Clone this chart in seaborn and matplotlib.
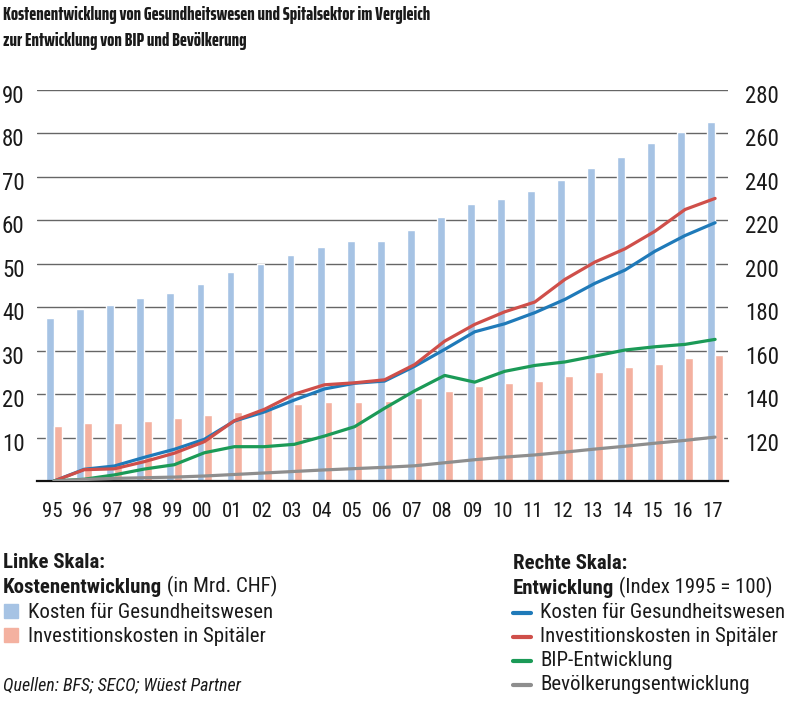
import matplotlib
matplotlib.use("Agg")
import matplotlib.pyplot as plt
import matplotlib.transforms as mtransforms
from matplotlib.patches import Rectangle
from matplotlib.lines import Line2D
import numpy as np
import pandas as pd
import seaborn as sns

years = ["95", "96", "97", "98", "99", "00", "01", "02", "03", "04", "05", "06",
         "07", "08", "09", "10", "11", "12", "13", "14", "15", "16", "17"]

# left scale, bn CHF
health_costs = [37.6, 39.7, 40.4, 42.2, 43.3, 45.4, 48.1, 50.0, 52.0, 53.8, 55.2, 55.2,
                57.7, 60.8, 63.7, 65.0, 66.8, 69.2, 72.0, 74.5, 77.7, 80.4, 82.6]
hospital_invest = [12.6, 13.4, 13.4, 13.7, 14.4, 15.1, 15.95, 16.5, 17.7, 18.1, 18.1, 18.4,
                   19.2, 20.7, 21.8, 22.5, 23.1, 24.2, 25.2, 26.3, 27.0, 28.4, 29.1]

# right scale, index 1995 = 100
idx_health = [100, 105.4, 106.9, 110.9, 114.6, 119.2, 127.6, 131.8, 137.3, 142.4, 145.0, 146.0,
              152.8, 160.6, 168.7, 172.4, 177.5, 183.6, 191.0, 197.1, 205.8, 213.0, 218.9]
idx_hospital = [100, 105.2, 105.6, 108.9, 112.8, 118.1, 127.8, 133.0, 140.0, 144.3, 145.2, 146.6,
                153.6, 164.4, 172.1, 177.9, 182.4, 192.8, 200.8, 206.9, 215.0, 225.0, 230.1]
idx_gdp = [100, 100.8, 102.8, 105.5, 107.5, 113.0, 115.8, 115.8, 116.9, 120.7, 125.0, 133.5,
           141.5, 148.6, 145.5, 150.5, 153.2, 154.8, 157.5, 160.3, 161.8, 162.9, 165.2]
idx_population = [100, 100.7, 101.2, 101.5, 101.8, 102.3, 103.0, 103.7, 104.4, 105.1, 105.7, 106.3,
                  107.0, 108.4, 109.8, 111.0, 112.0, 113.3, 114.7, 116.0, 117.4, 118.7, 120.2]

bar_names = ["Kosten für Gesundheitswesen", "Investitionskosten in Spitäler"]
line_names = ["Kosten für Gesundheitswesen", "Investitionskosten in Spitäler",
              "BIP-Entwicklung", "Bevölkerungsentwicklung"]
bar_colors = ["#a6c3e4", "#f4b1a0"]
line_colors = ["#1f7ab9", "#cf4f4a", "#1b9a57", "#8e8e8e"]

sns.set_style("white")
plt.rcParams["font.family"] = ["Roboto Condensed", "DejaVu Sans"]
plt.rcParams["text.color"] = "#1a1a1a"
title_font = ["Saira ExtraCondensed", "Roboto Condensed", "DejaVu Sans"]

bars = pd.DataFrame({
    "year": years * 2,
    "value": health_costs + hospital_invest,
    "series": [bar_names[0]] * len(years) + [bar_names[1]] * len(years),
})
pos = np.arange(len(years))
lines = pd.DataFrame({
    "pos": np.concatenate([pos] * 4),
    "value": idx_health + idx_hospital + idx_gdp + idx_population,
    "series": np.repeat(line_names, len(years)),
})

fig = plt.figure(figsize=(8.01, 7.06), dpi=100)
ax = fig.add_axes([0.0462, 0.3187, 0.8627, 0.5538])

sns.barplot(data=bars, x="year", y="value", hue="series", palette=bar_colors,
            width=0.52, saturation=1, legend=False, ax=ax)
ax2 = ax.twinx()
sns.lineplot(data=lines, x="pos", y="value", hue="series", palette=line_colors,
             linewidth=2.3, sort=False, legend=False, ax=ax2)

# marks sit a touch right of the tick centres in the original
off = 0.07
ax.set_xlim(-0.5 - off, len(years) - 0.5 - off)
ax.set_ylim(0, 90)
ax2.set_ylim(100, 280)
ax.set_yticks(range(10, 91, 10))
ax2.set_yticks(range(120, 281, 20))
ax.set_xticks(pos - off, labels=years)
ax.set_xticks(np.arange(len(years) + 1) - 0.5 - off, minor=True)
ax.set_xlabel("")
ax.set_ylabel("")
ax2.set_xlabel("")
ax2.set_ylabel("")

ax.yaxis.grid(True, color="#666666", linewidth=1.0)
ax.set_axisbelow(True)
for a in (ax, ax2):
    for side in ("top", "left", "right", "bottom"):
        a.spines[side].set_visible(False)
ax.spines["bottom"].set_visible(True)
ax.spines["bottom"].set_color("#111111")
ax.spines["bottom"].set_linewidth(1.6)

ax.tick_params(axis="x", which="major", length=0, pad=15, labelsize=15, labelcolor="#1a1a1a")
ax.tick_params(axis="x", which="minor", length=6, width=1.5, color="#111111", direction="out")
ax.tick_params(axis="y", length=0, pad=9, labelsize=16.5, labelcolor="#1a1a1a")
ax2.tick_params(axis="y", length=0, pad=12, labelsize=16.5, labelcolor="#1a1a1a")

shift = mtransforms.ScaledTranslation(0, -0.04, fig.dpi_scale_trans)
for lab in ax.get_yticklabels() + ax2.get_yticklabels():
    lab.set_transform(lab.get_transform() + shift)

W, H = 801, 706


def fx(px):
    return px / W


def fy(py):
    return 1 - py / H


fig.text(fx(3), fy(20.5), "Kostenentwicklung von Gesundheitswesen und Spitalsektor im Vergleich",
         family=title_font, fontsize=13.7, fontweight=800, va="baseline")
fig.text(fx(3), fy(45.5), "zur Entwicklung von BIP und Bevölkerung",
         family=title_font, fontsize=13.7, fontweight=800, va="baseline")

fs = 15

# left legend (bars)
fig.text(fx(3), fy(568), "Linke Skala:", fontsize=fs, fontweight="bold", va="baseline")
t = fig.text(fx(3), fy(593), "Kostenentwicklung", fontsize=fs, fontweight="bold", va="baseline")
ax.annotate(" (in Mrd. CHF)", xy=(1, 0), xycoords=t, va="bottom", ha="left", fontsize=fs,
            annotation_clip=False)
for i, (name, col) in enumerate(zip(bar_names, bar_colors)):
    base = 618 + i * 24
    fig.add_artist(Rectangle((fx(4), fy(base)), 14 / W, 14 / H, color=col,
                             transform=fig.transFigure))
    fig.text(fx(28), fy(base), name, fontsize=fs, va="baseline")
fig.text(fx(3), fy(690), "Quellen: BFS; SECO; Wüest Partner", fontsize=13,
         style="italic", va="baseline")

# right legend (lines)
fig.text(fx(513), fy(569), "Rechte Skala:", fontsize=fs, fontweight="bold", va="baseline")
t2 = fig.text(fx(513), fy(594), "Entwicklung", fontsize=fs, fontweight="bold", va="baseline")
ax.annotate(" (Index 1995 = 100)", xy=(1, 0), xycoords=t2, va="bottom", ha="left",
            fontsize=fs, annotation_clip=False)
for i, (name, col) in enumerate(zip(line_names, line_colors)):
    base = 618 + i * 24
    fig.add_artist(Line2D([fx(513), fx(531)], [fy(base - 5), fy(base - 5)], color=col,
                          linewidth=3, transform=fig.transFigure))
    fig.text(fx(540), fy(base), name, fontsize=fs, va="baseline")

fig.savefig("out.png", dpi=100)
